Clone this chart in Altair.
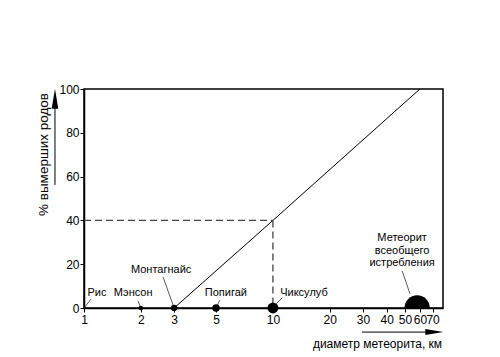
import altair as alt
import pandas as pd

# ---- data ----
line_diam = [3, 10, 60]
line_pct = [0, 40, 100]

crater_names = ["Мэнсон", "Монтагнайс", "Попигай", "Чиксулуб"]
crater_diam = [2, 3, 5, 10]
crater_size = [20, 40, 55, 120]

big_diam = [58]
big_pct = [0]
big_size = [640]

label_text = ["Рис", "Мэнсон", "Монтагнайс", "Попигай", "Чиксулуб",
              "Метеорит", "всеобщего", "истребления"]
label_x = [1.17, 1.82, 2.56, 5.64, 14.6, 48.3, 48.3, 48.3]
label_y = [6.9, 6.9, 17.4, 6.9, 6.9, 32.0, 26.2, 20.5]

leader_x1 = [1.0, 2.0, 3.0, 5.0, 10.37, 53.2]
leader_y1 = [0.0, 0.0, 0.0, 0.0, 1.8, 6.4]
leader_x2 = [1.09, 1.93, 2.62, 5.24, 11.2, 48.3]
leader_y2 = [4.1, 3.2, 14.2, 3.6, 4.6, 17.0]

dash_x1 = [1, 10]
dash_y1 = [40, 40]
dash_x2 = [10, 10]
dash_y2 = [40, 0]

x_ticks = [1, 2, 3, 5, 10, 20, 30, 40, 50, 60, 70]
y_ticks = [0, 20, 40, 60, 80, 100]

FONT = "Liberation Sans"

xs = alt.Scale(type="log", domain=[1, 79.5], nice=False)
ys = alt.Scale(domain=[0, 100], nice=False)

xaxis = alt.Axis(values=x_ticks, title="диаметр метеорита, км", grid=False,
                 labelOverlap=False, labelFlush=False, tickSize=4, labelPadding=2,
                 titleX=293, titleY=35, titleAlign="center", titleBaseline="middle",
                 format="d")
yaxis = alt.Axis(values=y_ticks, title="% вымерших родов", grid=False,
                 tickSize=4, labelPadding=1, titleFontSize=13.5,
                 titleX=-41, titleY=65, titleAngle=270, titleAlign="center",
                 titleBaseline="middle")

line_df = pd.DataFrame({"d": line_diam, "p": line_pct})
base_line = alt.Chart(line_df).mark_line(color="black", strokeWidth=1).encode(
    x=alt.X("d:Q", scale=xs, axis=xaxis),
    y=alt.Y("p:Q", scale=ys, axis=yaxis),
)

dash_df = pd.DataFrame({"x1": dash_x1, "y1": dash_y1, "x2": dash_x2, "y2": dash_y2})
dashes = alt.Chart(dash_df).mark_rule(color="#444", strokeWidth=1.3, strokeDash=[7, 4]).encode(
    x=alt.X("x1:Q", scale=xs), y=alt.Y("y1:Q", scale=ys), x2="x2:Q", y2="y2:Q")

lead_df = pd.DataFrame({"x1": leader_x1, "y1": leader_y1, "x2": leader_x2, "y2": leader_y2})
leaders = alt.Chart(lead_df).mark_rule(color="#333", strokeWidth=0.8).encode(
    x=alt.X("x1:Q", scale=xs), y=alt.Y("y1:Q", scale=ys), x2="x2:Q", y2="y2:Q")

cr_df = pd.DataFrame({"name": crater_names, "d": crater_diam, "s": crater_size})
craters = alt.Chart(cr_df).mark_point(filled=True, color="black", opacity=1, shape="circle").encode(
    x=alt.X("d:Q", scale=xs), y=alt.value(219),
    size=alt.Size("s:Q", scale=None, legend=None))

big_df = pd.DataFrame({"d": big_diam, "p": big_pct, "s": big_size})
big = alt.Chart(big_df).mark_point(filled=True, color="black", opacity=1, shape="circle", clip=True).encode(
    x=alt.X("d:Q", scale=xs), y=alt.Y("p:Q", scale=ys),
    size=alt.Size("s:Q", scale=None, legend=None))

lab_df = pd.DataFrame({"t": label_text, "x": label_x, "y": label_y})
labels = alt.Chart(lab_df).mark_text(font=FONT, fontSize=11, color="black",
                                      align="center", baseline="middle").encode(
    x=alt.X("x:Q", scale=xs), y=alt.Y("y:Q", scale=ys), text="t:N")

# axis arrows
arr_df = pd.DataFrame({"x1": [29.6, 0.702], "y1": [-11.0, 56.2],
                       "x2": [74.0, 0.702], "y2": [-11.0, 96.0]})
arrows = alt.Chart(arr_df).mark_rule(color="black", strokeWidth=1).encode(
    x=alt.X("x1:Q", scale=xs), y=alt.Y("y1:Q", scale=ys), x2="x2:Q", y2="y2:Q")

head_x_df = pd.DataFrame({"x": [71.5], "y": [-11.0]})
head_x = alt.Chart(head_x_df).mark_point(filled=True, color="black", opacity=1,
                                         shape="M-1,-0.33 L1,0 L-1,0.33 Z", size=324).encode(
    x=alt.X("x:Q", scale=xs), y=alt.Y("y:Q", scale=ys))
head_y_df = pd.DataFrame({"x": [0.702], "y": [95.5]})
head_y = alt.Chart(head_y_df).mark_point(filled=True, color="black", opacity=1,
                                         shape="M0,-1 L0.33,1 L-0.33,1 Z", size=400).encode(
    x=alt.X("x:Q", scale=xs), y=alt.Y("y:Q", scale=ys))

chart = alt.layer(base_line, dashes, leaders, craters, big, labels, arrows, head_x, head_y).properties(
    width=359, height=219,
    autosize=alt.AutoSizeParams(type="none"),
    padding={"left": 84, "top": 89, "right": 57, "bottom": 49},
    background="white",
).configure_view(stroke="black", strokeWidth=1.5).configure_axis(
    domainColor="black", domainWidth=1.5, tickColor="black", tickWidth=1,
    labelFont=FONT, labelFontSize=12, labelColor="black",
    titleFont=FONT, titleFontSize=12, titleColor="black", titleFontWeight="normal",
)

chart.save("out.html", embed_options={"renderer": "svg", "actions": False})
